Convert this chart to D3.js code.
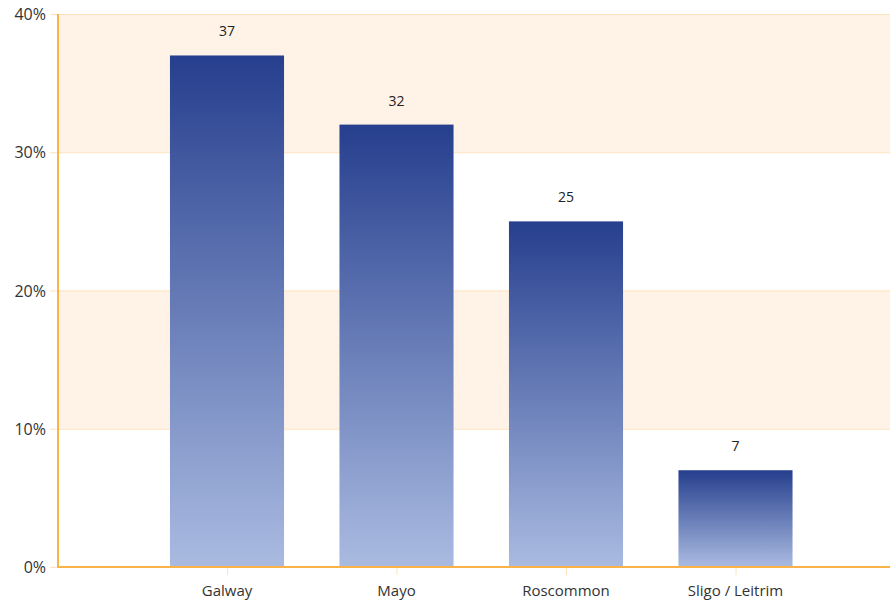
<!DOCTYPE html>
<html>
<head>
<meta charset="utf-8">
<script src="https://cdn.jsdelivr.net/npm/d3@7"></script>
<style>
  html, body { margin: 0; padding: 0; background: #fff; }
  svg { display: block; font-family: "Open Sans", "Noto Sans", sans-serif; }
</style>
</head>
<body>
<svg id="chart" width="890" height="603"></svg>
<script>
const regions = ["Galway", "Mayo", "Roscommon", "Sligo / Leitrim"];
const shares = [37, 32, 25, 7];
const yTicks = [0, 10, 20, 30, 40];

const svg = d3.select("#chart");
const plot = { left: 58, right: 890, top: 14, bottom: 567 };

const y = d3.scaleLinear().domain([0, 40]).range([plot.bottom, plot.top]);
const x = d3.scaleBand().domain(regions).range([142.25, 820.25]).paddingInner(0.327).paddingOuter(0.1635);

// alternating bands
const bands = [[30, 40], [10, 20]];
svg.append("g").selectAll("rect").data(bands).join("rect")
  .attr("x", plot.left).attr("width", plot.right - plot.left)
  .attr("y", d => y(d[1])).attr("height", d => y(d[0]) - y(d[1]))
  .attr("fill", "#fff2e6");

// gridlines
svg.append("g").selectAll("line").data(yTicks).join("line")
  .attr("x1", plot.left - 8).attr("x2", plot.right)
  .attr("y1", d => y(d) + 0.5).attr("y2", d => y(d) + 0.5)
  .attr("stroke", "#ffe2bd").attr("stroke-width", 1);

// gradient
const defs = svg.append("defs");
const grad = defs.append("linearGradient").attr("id", "barGrad")
  .attr("x1", 0).attr("y1", 0).attr("x2", 0).attr("y2", 1);
grad.append("stop").attr("offset", "0%").attr("stop-color", "#263f8e");
grad.append("stop").attr("offset", "100%").attr("stop-color", "#aabbe1");

// bars
svg.append("g").selectAll("rect").data(regions).join("rect")
  .attr("x", d => x(d)).attr("width", x.bandwidth())
  .attr("y", (d, i) => y(shares[i]))
  .attr("height", (d, i) => y(0) - y(shares[i]))
  .attr("fill", "url(#barGrad)");

// value labels
svg.append("g").selectAll("text").data(regions).join("text")
  .attr("x", d => x(d) + x.bandwidth() / 2)
  .attr("y", (d, i) => y(shares[i]) - 19)
  .attr("text-anchor", "middle")
  .attr("font-size", 14).attr("fill", "#222")
  .text((d, i) => shares[i]);

// y axis line
svg.append("line")
  .attr("x1", plot.left).attr("x2", plot.left)
  .attr("y1", plot.top).attr("y2", plot.bottom)
  .attr("stroke", "#fbb347").attr("stroke-width", 2);

// x axis line
svg.append("line")
  .attr("x1", plot.left - 1).attr("x2", plot.right)
  .attr("y1", plot.bottom).attr("y2", plot.bottom)
  .attr("stroke", "#fbb347").attr("stroke-width", 2);

// x ticks
svg.append("g").selectAll("line").data(regions).join("line")
  .attr("x1", d => x(d) + x.bandwidth() / 2 + 0.5).attr("x2", d => x(d) + x.bandwidth() / 2 + 0.5)
  .attr("y1", plot.bottom + 1).attr("y2", plot.bottom + 8)
  .attr("stroke", "#ffe2bd").attr("stroke-width", 1);

// y labels
svg.append("g").selectAll("text").data(yTicks).join("text")
  .attr("x", 46).attr("y", d => y(d) + 6)
  .attr("text-anchor", "end")
  .attr("font-size", 16).attr("fill", "#333")
  .text(d => d + "%");

// x labels
svg.append("g").selectAll("text").data(regions).join("text")
  .attr("x", d => x(d) + x.bandwidth() / 2)
  .attr("y", 596)
  .attr("text-anchor", "middle")
  .attr("font-size", 15).attr("fill", "#333")
  .text(d => d);
</script>
</body>
</html>
